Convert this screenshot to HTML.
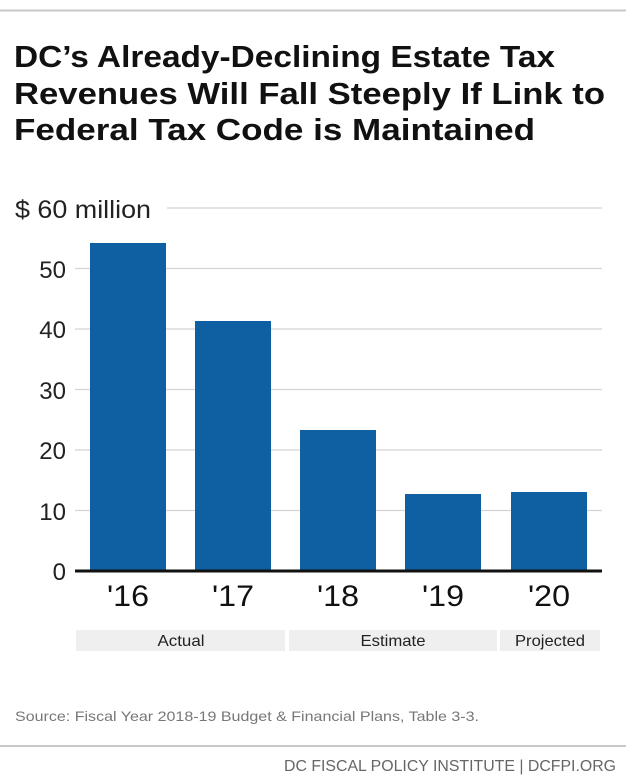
<!DOCTYPE html>
<html><head><meta charset="utf-8"><style>
html,body{margin:0;padding:0;background:#fff;}
svg{display:block;font-family:"Liberation Sans",sans-serif;}
</style></head><body>
<svg width="626" height="777" viewBox="0 0 626 777" xmlns="http://www.w3.org/2000/svg">
<rect width="626" height="777" fill="#fff"/>
<line x1="0" y1="10.5" x2="626" y2="10.5" stroke="#c8c8c8" stroke-width="2"/>
<g font-weight="bold" font-size="31" fill="#111">
<text x="14" y="67" textLength="541" lengthAdjust="spacingAndGlyphs">DC’s Already-Declining Estate Tax</text>
<text x="14" y="104" textLength="591" lengthAdjust="spacingAndGlyphs">Revenues Will Fall Steeply If Link to</text>
<text x="14" y="140" textLength="521" lengthAdjust="spacingAndGlyphs">Federal Tax Code is Maintained</text>
</g>
<g stroke="#d4d4d4" stroke-width="1.3">
<line x1="167" y1="208" x2="602" y2="208"/>
<line x1="75" y1="268.5" x2="602" y2="268.5"/>
<line x1="75" y1="329" x2="602" y2="329"/>
<line x1="75" y1="389.5" x2="602" y2="389.5"/>
<line x1="75" y1="450" x2="602" y2="450"/>
<line x1="75" y1="510.5" x2="602" y2="510.5"/>
</g>
<text x="15" y="218" font-size="25" fill="#222" textLength="136" lengthAdjust="spacingAndGlyphs">$ 60 million</text>
<g font-size="24" fill="#222" text-anchor="end">
<text x="66" y="278">50</text>
<text x="66" y="338">40</text>
<text x="66" y="399">30</text>
<text x="66" y="459">20</text>
<text x="66" y="520">10</text>
<text x="66" y="580">0</text>
</g>
<g fill="#0f5fa3">
<rect x="90" y="243" width="76" height="328"/>
<rect x="195" y="321" width="76" height="250"/>
<rect x="300" y="430" width="76" height="141"/>
<rect x="405" y="494" width="76" height="77"/>
<rect x="511" y="492" width="76" height="79"/>
</g>
<line x1="75" y1="571" x2="602" y2="571" stroke="#111" stroke-width="3"/>
<g font-size="30" fill="#111" text-anchor="middle">
<text x="128" y="606" textLength="42" lengthAdjust="spacingAndGlyphs">'16</text>
<text x="233" y="606" textLength="42" lengthAdjust="spacingAndGlyphs">'17</text>
<text x="338" y="606" textLength="42" lengthAdjust="spacingAndGlyphs">'18</text>
<text x="443" y="606" textLength="42" lengthAdjust="spacingAndGlyphs">'19</text>
<text x="549" y="606" textLength="42" lengthAdjust="spacingAndGlyphs">'20</text>
</g>
<g fill="#efefef">
<rect x="76" y="630" width="209" height="21"/>
<rect x="289" y="630" width="208" height="21"/>
<rect x="500" y="630" width="100" height="21"/>
</g>
<g font-size="16" fill="#222" text-anchor="middle">
<text x="181" y="646" textLength="47" lengthAdjust="spacingAndGlyphs">Actual</text>
<text x="393" y="646" textLength="65" lengthAdjust="spacingAndGlyphs">Estimate</text>
<text x="550" y="646" textLength="70" lengthAdjust="spacingAndGlyphs">Projected</text>
</g>
<text x="15" y="721" font-size="14" fill="#777" textLength="464" lengthAdjust="spacingAndGlyphs">Source: Fiscal Year 2018-19 Budget &amp; Financial Plans, Table 3-3.</text>
<line x1="0" y1="746" x2="626" y2="746" stroke="#c8c8c8" stroke-width="2"/>
<text x="616" y="771" font-size="16" fill="#666" text-anchor="end" textLength="332" lengthAdjust="spacingAndGlyphs">DC FISCAL POLICY INSTITUTE | DCFPI.ORG</text>
</svg>
</body></html>
